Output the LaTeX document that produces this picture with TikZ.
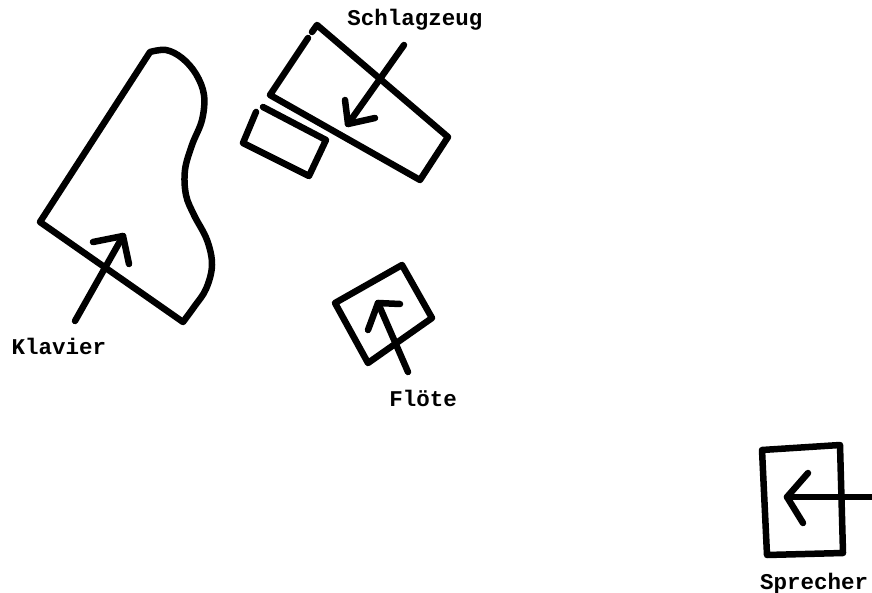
\documentclass[tikz,border=0pt]{standalone}
\usepackage{fontspec}
\setmonofont{Liberation Mono}
\tikzset{
  stroke/.style={line width=6.5pt, line cap=round, line join=round},
  lbl/.style={font=\ttfamily\bfseries\fontsize{22.5}{24}\selectfont, inner sep=0pt}
}
\begin{document}
\begin{tikzpicture}[x=1pt,y=-1pt]
\useasboundingbox (0,0) rectangle (872,593);
% Klavier
\draw[stroke] (150,52) -- (40,222) -- (183,322)
  plot[smooth, tension=0.6] coordinates {(183,322) (194,307) (206,289) (212,265) (207,240) (194,215) (186,195) (185,170) (192,145) (202,120) (204,95) (196,74) (182,58) (166,50) (150,52)};
\coordinate (kt) at (75,321);
\coordinate (kh) at (123,236);
\draw[stroke] (kt) -- (kh);
\draw[stroke] (93,242) -- (kh) -- (129,264);
\node[lbl] (klavier) at (59,346) {Klavier};
% Schlagzeug
\draw[stroke] (308,38) -- (270,95) -- (420,180) -- (448,137) -- (317,25) -- (312,32);
\draw[stroke] (263,107) -- (326,140) -- (309,176) -- (243,143) -- (256,112);
\coordinate (st) at (404,45);
\coordinate (sh) at (348,124);
\draw[stroke] (st) -- (sh);
\draw[stroke] (345,100) -- (sh) -- (375,118);
\node[lbl] (schlagzeug) at (415,20) {Schlagzeug};
% Floete
\draw[stroke] (402,265) -- (432,318) -- (368,363) -- (335,303) -- cycle;
\coordinate (ft) at (408,372);
\coordinate (fh) at (378,303);
\draw[stroke] (ft) -- (fh);
\draw[stroke] (368,330) -- (fh) -- (400,304);
\node[lbl] (floete) at (423,398) {Flöte};
% Sprecher
\draw[stroke] (762,450) -- (840,445) -- (843,553) -- (767,555) -- cycle;
\coordinate (pt) at (875,497);
\coordinate (ph) at (787,497);
\draw[stroke] (pt) -- (ph);
\draw[stroke] (808,473) -- (ph) -- (803,523);
\node[lbl] (sprecher) at (814,584) {Sprecher};
\end{tikzpicture}
\end{document}
